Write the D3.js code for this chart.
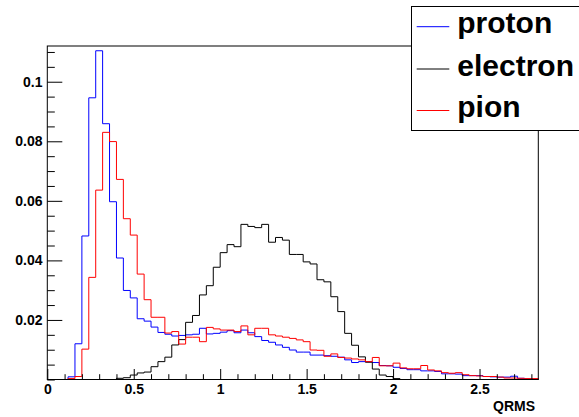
<!DOCTYPE html>
<html>
<head>
<meta charset="utf-8">
<script src="https://cdn.jsdelivr.net/npm/d3@7"></script>
<style>
  html, body { margin: 0; padding: 0; background: #fff; }
  svg { display: block; }
  text { font-family: "Liberation Sans", Arial, Helvetica, sans-serif; font-weight: bold; }
</style>
</head>
<body>
<div id="chart"></div>
<script>
// QRMS histograms, 71 bins of width 0.04 from 0 to 2.84
const binWidth = 0.04;
const proton = [
  0, 0, 0, 0.0009, 0.012, 0.0482, 0.0946, 0.1104, 0.0859, 0.0597,
  0.0408, 0.0299, 0.0274, 0.0204, 0.0196, 0.0176, 0.0158, 0.0152, 0.0146, 0.0148,
  0.015, 0.0152, 0.0172, 0.0153, 0.0155, 0.0159, 0.0164, 0.0157, 0.0166, 0.0157,
  0.0144, 0.0131, 0.0125, 0.0116, 0.0108, 0.0099, 0.0092, 0.0092, 0.0082, 0.0082,
  0.008, 0.0078, 0.0075, 0.0066, 0.0057, 0.006, 0.006, 0.0057, 0.0047, 0.0046,
  0.0041, 0.0037, 0.0033, 0.0033, 0.0029, 0.0029, 0.0027, 0.0019, 0.0019, 0.0018,
  0.0013, 0.0013, 0.0013, 0.001, 0.0009, 0.0008, 0.0008, 0.0011, 0.0004, 0.0002,
  0.0001
];
const electron = [
  0, 0, 0, 0, 0, 0, 0, 0, 0, 0,
  0.0004, 0.0006, 0.0015, 0.0022, 0.0025, 0.0043, 0.006, 0.0075, 0.0116, 0.0134,
  0.0192, 0.0215, 0.0284, 0.0315, 0.0377, 0.0426, 0.0453, 0.0446, 0.0521, 0.0514,
  0.051, 0.0521, 0.0461, 0.0477, 0.0468, 0.042, 0.042, 0.0395, 0.0388, 0.0335,
  0.0328, 0.0278, 0.0228, 0.0155, 0.0115, 0.0076, 0.0058, 0.0035, 0.0015, 0.001,
  0.0003, 0, 0, 0, 0, 0, 0, 0, 0, 0,
  0, 0, 0, 0, 0, 0, 0, 0, 0, 0,
  0
];
const pion = [
  0, 0, 0, 0.0003, 0.001, 0.0102, 0.0343, 0.0636, 0.083, 0.0799,
  0.0672, 0.054, 0.0485, 0.0354, 0.0268, 0.0209, 0.0209, 0.0156, 0.0161, 0.0119,
  0.0142, 0.0142, 0.0127, 0.0175, 0.017, 0.0166, 0.0166, 0.0161, 0.018, 0.015,
  0.0172, 0.0172, 0.015, 0.0146, 0.0142, 0.0138, 0.0133, 0.0127, 0.0099, 0.0098,
  0.0078, 0.0086, 0.0074, 0.0072, 0.0069, 0.0066, 0.006, 0.0074, 0.0046, 0.0046,
  0.0055, 0.0039, 0.0036, 0.0036, 0.0047, 0.0032, 0.0029, 0.0023, 0.0021, 0.0023,
  0.0016, 0.0013, 0.0012, 0.001, 0.001, 0.0008, 0.0005, 0.0005, 0.0004, 0.0003,
  0.0003
];
const seriesNames = ['proton', 'electron', 'pion'];
const seriesColors = ['#0000ff', '#000000', '#ff0000'];

const xMajorTicks = [0, 0.5, 1, 1.5, 2, 2.5];
const xTickLabels = ['0', '0.5', '1', '1.5', '2', '2.5'];
const yMajorTicks = [0.02, 0.04, 0.06, 0.08, 0.1];
const yTickLabels = ['0.02', '0.04', '0.06', '0.08', '0.1'];
const xTitle = 'QRMS';

const width = 579, height = 417;
const frame = { left: 47.3, right: 538.3, top: 46, bottom: 379.5 };

const svg = d3.select('#chart').append('svg')
  .attr('width', width).attr('height', height);

const x = d3.scaleLinear().domain([0, 2.84]).range([frame.left, frame.right]);
const y = d3.scaleLinear().domain([0, 0.112]).range([frame.bottom, frame.top]);

const xMinor = d3.range(0, 2.84, 0.1).filter(v => !xMajorTicks.some(t => Math.abs(t - v) < 1e-6));
const yMinor = d3.range(0, 0.112, 0.005).filter(v => !yMajorTicks.some(t => Math.abs(t - v) < 1e-6));

// histograms
const line = d3.line().x(d => x(d[0])).y(d => y(d[1])).curve(d3.curveStepAfter);
[proton, electron, pion].forEach((vals, i) => {
  const pts = [[0, 0]];
  vals.forEach((v, k) => pts.push([k * binWidth, v]));
  pts.push([vals.length * binWidth, vals[vals.length - 1]]);
  pts.push([vals.length * binWidth, 0]);
  svg.append('path')
    .attr('d', line(pts))
    .attr('fill', 'none')
    .attr('stroke', seriesColors[i])
    .attr('stroke-width', 1);
});

// frame
svg.append('rect')
  .attr('x', frame.left).attr('y', frame.top)
  .attr('width', frame.right - frame.left).attr('height', frame.bottom - frame.top)
  .attr('fill', 'none').attr('stroke', '#000').attr('stroke-width', 1);

// x axis
const xAxis = svg.append('g').attr('transform', `translate(0,${frame.bottom})`)
  .call(d3.axisBottom(x).tickValues(xMajorTicks).tickSizeInner(-10.5).tickSizeOuter(0)
    .tickPadding(4.6).tickFormat((d, i) => xTickLabels[i]));
svg.append('g').attr('transform', `translate(0,${frame.bottom})`)
  .call(d3.axisBottom(x).tickValues(xMinor).tickSizeInner(-5.3).tickSizeOuter(0).tickFormat(''));

// y axis
svg.append('g').attr('transform', `translate(${frame.left},0)`)
  .call(d3.axisLeft(y).tickValues(yMajorTicks).tickSizeInner(-15).tickSizeOuter(0)
    .tickPadding(4.8).tickFormat((d, i) => yTickLabels[i]));
svg.append('g').attr('transform', `translate(${frame.left},0)`)
  .call(d3.axisLeft(y).tickValues(yMinor).tickSizeInner(-7.5).tickSizeOuter(0).tickFormat(''));

svg.selectAll('.domain').remove();
svg.selectAll('.tick line').attr('stroke', '#000');
svg.selectAll('.tick text').attr('fill', '#000').attr('font-size', 14)
  .attr('font-family', '"Liberation Sans", Arial, sans-serif').attr('font-weight', 'bold');

svg.append('text')
  .attr('x', 535).attr('y', 411)
  .attr('text-anchor', 'end').attr('font-size', 14)
  .text(xTitle);

// legend
const legend = svg.append('g');
legend.append('rect')
  .attr('x', 411.5).attr('y', 6.5).attr('width', 200).attr('height', 124)
  .attr('fill', '#fff').attr('stroke', '#000').attr('stroke-width', 1);
const rowY = [26.7, 69, 110.5];
seriesNames.forEach((name, i) => {
  legend.append('line')
    .attr('x1', 416.7).attr('x2', 449.3)
    .attr('y1', rowY[i]).attr('y2', rowY[i])
    .attr('stroke', seriesColors[i]).attr('stroke-width', 1);
  legend.append('text')
    .attr('x', 457.3).attr('y', rowY[i] + 6.5)
    .attr('font-size', 30).attr('fill', '#000')
    .text(name);
});
</script>
</body>
</html>
